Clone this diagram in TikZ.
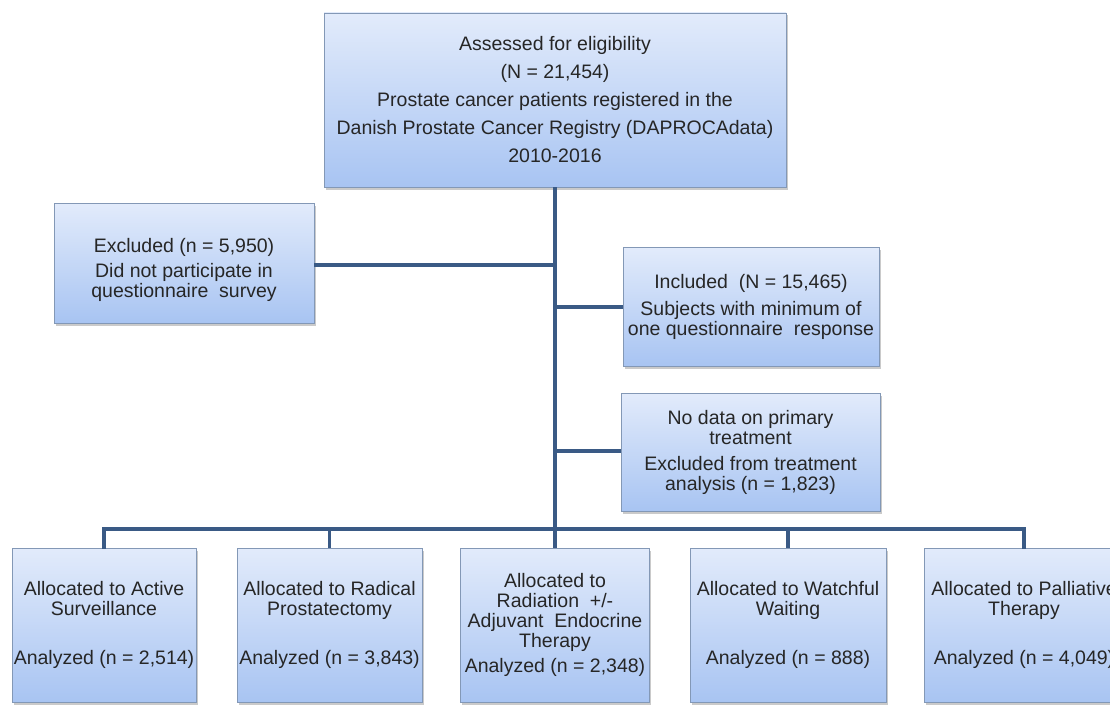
\documentclass[tikz,border=0pt]{standalone}
\usepackage{fontspec}
\setmainfont{Liberation Sans}
\usetikzlibrary{shadows}
\definecolor{boxtop}{HTML}{E2EBFB}
\definecolor{boxbot}{HTML}{A8C4F2}
\definecolor{boxline}{HTML}{8398B6}
\definecolor{conn}{HTML}{3A5A85}
\tikzset{
  flowbox/.style={draw=boxline, line width=0.9pt, top color=boxtop, bottom color=boxbot,
    inner sep=0pt, align=center, text=black!85,
    font=\fontsize{19.5}{20}\selectfont,
    drop shadow={shadow xshift=1.5pt, shadow yshift=-2.5pt, opacity=0.35, fill=black!60}},
  link/.style={draw=conn, line width=3.6pt}
}
\begin{document}
\begin{tikzpicture}[x=1pt,y=-1pt]
\useasboundingbox (0,0) rectangle (1110,706);
\clip (0,0) rectangle (1110,706);
\node[flowbox, minimum width=462pt, minimum height=174pt] (top) at (555,100)
  {Assessed for eligibility\\[8pt](N = 21,454)\\[8pt]Prostate cancer patients registered in the\\[8pt]Danish Prostate Cancer Registry (DAPROCAdata)\\[8pt]2010-2016};
\node[flowbox, minimum width=260pt, minimum height=120pt] (excl) at (184,263)
  {\rule{0pt}{28pt}Excluded (n = 5,950)\\[5pt]Did not participate in\\questionnaire \ survey};
\node[flowbox, minimum width=256pt, minimum height=119pt] (incl) at (751,306.5)
  {Included \ (N = 15,465)\\[7pt]Subjects with minimum of\\one questionnaire \ response};
\node[flowbox, minimum width=259pt, minimum height=118pt] (nodata) at (750.5,452)
  {No data on primary\\treatment\\[6pt]Excluded from treatment\\analysis (n = 1,823)};
\node[flowbox, minimum width=184pt, minimum height=154pt] (b1) at (104,625)
  {Allocated to Active\\Surveillance\\[29pt]Analyzed (n = 2,514)};
\node[flowbox, minimum width=185pt, minimum height=154pt] (b2) at (329.5,625)
  {Allocated to Radical\\Prostatectomy\\[29pt]Analyzed (n = 3,843)};
\node[flowbox, minimum width=189pt, minimum height=154pt] (b3) at (555,625)
  {Allocated to\\Radiation \ +/-\\Adjuvant \ Endocrine\\Therapy\\[5pt]Analyzed (n = 2,348)};
\node[flowbox, minimum width=196pt, minimum height=154pt] (b4) at (788,625)
  {Allocated to Watchful\\Waiting\\[29pt]Analyzed (n = 888)};
\node[flowbox, minimum width=200pt, minimum height=154pt] (b5) at (1024,625)
  {Allocated to Palliative\\Therapy\\[29pt]Analyzed (n = 4,049)};
\coordinate (bus) at (555,529);
\coordinate (jex) at (555,265);
\coordinate (jin) at (555,307);
\coordinate (jnd) at (555,451);
\draw[link] (top.south) -- (b3.north);
\draw[link] (excl.east |- jex) -- (jex);
\draw[link] (jin) -- (incl.west |- jin);
\draw[link] (jnd) -- (nodata.west |- jnd);
\draw[link, line cap=rect] (b1.north) -- (b1.north |- bus) -- (b5.north |- bus) -- (b5.north);
\draw[link] (b2.north |- bus) -- (b2.north);
\draw[link] (b4.north |- bus) -- (b4.north);
\end{tikzpicture}
\end{document}
